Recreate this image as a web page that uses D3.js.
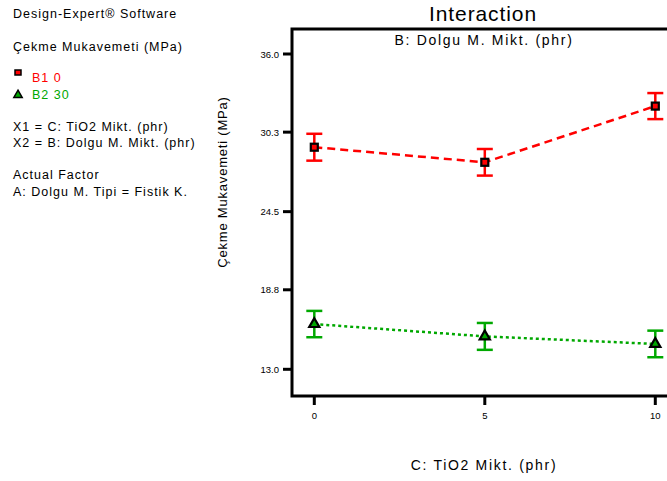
<!DOCTYPE html>
<html lang="en">
<head>
<meta charset="utf-8">
<title>Interaction</title>
<script src="https://cdn.jsdelivr.net/npm/d3@7"></script>
<style>
  body { margin: 0; background: #fff; }
  text { font-family: "Liberation Sans", Arial, sans-serif; }
</style>
</head>
<body>
<script>
// data
var tio2 = [0, 5, 10];
var b1Values = [29.2, 28.1, 32.2];
var b2Values = [16.3, 15.4, 14.85];
var b1Err = [0.98, 0.97, 0.95];
var b2Err = [0.96, 0.98, 0.97];
var yTicks = [13.0, 18.8, 24.5, 30.3, 36.0];
var xTicks = [0, 5, 10];
var sideLines = [
  "Design-Expert\u00AE Software",
  "\u00C7ekme Mukavemeti (MPa)",
  "X1 = C: TiO2 Mikt. (phr)",
  "X2 = B: Dolgu M. Mikt. (phr)",
  "Actual Factor",
  "A: Dolgu M. Tipi = Fistik K."
];
var legendLabels = ["B1 0", "B2 30"];

var width = 667, height = 481;
var red = "#ff0000", green = "#00a800";
var sideY = [18, 51, 131, 147, 179, 196];

var svg = d3.select("body").append("svg")
            .attr("width", width)
            .attr("height", height);

var x = d3.scaleLinear().domain([0, 10]).range([314.3, 655.3]);
var y = d3.scaleLinear().domain([13, 36]).range([369.3, 54]);

var frameLeft = 292, frameTop = 29, frameBottom = 396;

// left text block
svg.selectAll("text.side")
   .data(sideLines)
   .enter().append("text")
   .attr("class", "side")
   .attr("x", 13).attr("y", function(d, i){ return sideY[i]; })
   .attr("font-size", 12.5).attr("letter-spacing", 1).attr("fill", "#000")
   .text(function(d){ return d; });

// legend
svg.append("rect").attr("x", 15).attr("y", 70).attr("width", 6).attr("height", 5)
   .attr("fill", red).attr("stroke", "#000").attr("stroke-width", 1.5);
svg.append("text").attr("x", 32).attr("y", 82).attr("font-size", 12.5).attr("letter-spacing", 1)
   .attr("fill", red).text(legendLabels[0]);
svg.append("path").attr("d", d3.symbol(d3.symbolTriangle, 30)())
   .attr("transform", "translate(18,95)")
   .attr("fill", green).attr("stroke", "#000").attr("stroke-width", 1.5);
svg.append("text").attr("x", 32).attr("y", 99).attr("font-size", 12.5).attr("letter-spacing", 1)
   .attr("fill", green).text(legendLabels[1]);

// title
svg.append("text").attr("x", 483).attr("y", 21).attr("text-anchor", "middle")
   .attr("font-size", 21).attr("letter-spacing", 0.9).text("Interaction");
svg.append("text").attr("x", 484).attr("y", 45).attr("text-anchor", "middle")
   .attr("font-size", 14).attr("letter-spacing", 1.7).text("B: Dolgu M. Mikt. (phr)");

// frame
svg.append("path")
   .attr("d", "M" + width + "," + frameTop + "H" + frameLeft + "V" + frameBottom + "H" + width)
   .attr("fill", "none").attr("stroke", "#000").attr("stroke-width", 3);

// y axis ticks
var yAxis = svg.append("g");
yTicks.forEach(function(v){
  yAxis.append("line").attr("x1", frameLeft - 9).attr("x2", frameLeft)
       .attr("y1", y(v)).attr("y2", y(v))
       .attr("stroke", "#000").attr("stroke-width", 3);
  yAxis.append("text").attr("x", frameLeft - 13).attr("y", y(v) + 3.5)
       .attr("text-anchor", "end").attr("font-size", 9.5).text(v.toFixed(1));
});

// x axis ticks
xTicks.forEach(function(v){
  svg.append("line").attr("x1", x(v)).attr("x2", x(v))
     .attr("y1", frameBottom).attr("y2", frameBottom + 9)
     .attr("stroke", "#000").attr("stroke-width", 3);
  svg.append("text").attr("x", x(v)).attr("y", frameBottom + 23)
     .attr("text-anchor", "middle").attr("font-size", 9.5).text(v);
});

// axis labels
svg.append("text").attr("x", 484).attr("y", 470).attr("text-anchor", "middle")
   .attr("font-size", 14).attr("letter-spacing", 1.7).text("C: TiO2 Mikt. (phr)");
svg.append("text").attr("transform", "translate(227,182) rotate(-90)")
   .attr("text-anchor", "middle").attr("font-size", 13).attr("letter-spacing", 0.8)
   .text("\u00C7ekme Mukavemeti (MPa)");

// series
function drawSeries(vals, errs, color, dash, shape){
  var pts = tio2.map(function(t, i){ return {x: t, v: vals[i], e: errs[i]}; });
  var line = d3.line().x(function(d){ return x(d.x); }).y(function(d){ return y(d.v); });
  svg.append("path").datum(pts).attr("d", line)
     .attr("fill", "none").attr("stroke", color).attr("stroke-width", 2.5)
     .attr("stroke-dasharray", dash);
  var g = svg.selectAll(null).data(pts).enter().append("g");
  g.append("line")
   .attr("x1", function(d){ return x(d.x); }).attr("x2", function(d){ return x(d.x); })
   .attr("y1", function(d){ return y(d.v + d.e); }).attr("y2", function(d){ return y(d.v - d.e); })
   .attr("stroke", color).attr("stroke-width", 2.5);
  [1, -1].forEach(function(s){
    g.append("line")
     .attr("x1", function(d){ return x(d.x) - 8; }).attr("x2", function(d){ return x(d.x) + 8; })
     .attr("y1", function(d){ return y(d.v + s * d.e); }).attr("y2", function(d){ return y(d.v + s * d.e); })
     .attr("stroke", color).attr("stroke-width", 2.5);
  });
  if (shape === "square") {
    g.append("rect")
     .attr("x", function(d){ return x(d.x) - 3.5; }).attr("y", function(d){ return y(d.v) - 3.5; })
     .attr("width", 7).attr("height", 7)
     .attr("fill", color).attr("stroke", "#000").attr("stroke-width", 2.2);
  } else {
    g.append("path").attr("d", d3.symbol(d3.symbolTriangle, 45)())
     .attr("transform", function(d){ return "translate(" + x(d.x) + "," + y(d.v) + ")"; })
     .attr("fill", color).attr("stroke", "#000").attr("stroke-width", 2.2);
  }
}

drawSeries(b1Values, b1Err, red, "8,5", "square");
drawSeries(b2Values, b2Err, green, "3,3", "triangle");
</script>
</body>
</html>
